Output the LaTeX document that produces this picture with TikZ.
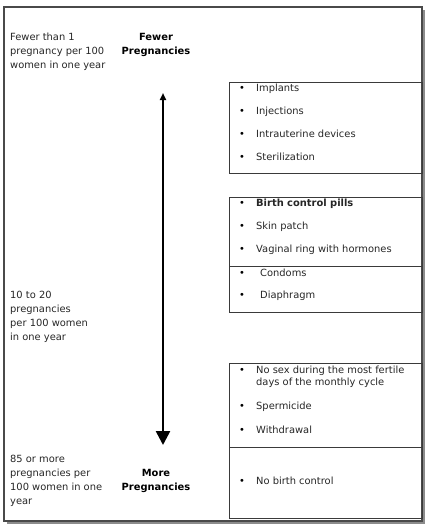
\documentclass[tikz,border=0pt]{standalone}
\usepackage{fontspec}
\setmainfont{DejaVu Sans}
\usepackage{xcolor}
\usepackage{tikz}
\usetikzlibrary{
  arrows.meta,
  positioning,
}
\definecolor{framegray}{HTML}{4A4A4A}
\definecolor{shadowgray}{HTML}{8C8C8C}
\definecolor{boxline}{HTML}{3A3A3A}
\definecolor{textgray}{HTML}{262626}

\begin{document}
\begin{tikzpicture}[
    x=1pt, y=-1pt,
    rate/.style={align=left, anchor=west, inner sep=0pt, text=textgray,
                 font=\fontsize{9.9}{14}\selectfont},
    heading/.style={align=center, inner sep=0pt, text=black,
                    font=\fontsize{9.9}{14}\selectfont\bfseries},
    method/.style={anchor=west, inner sep=0pt, text=textgray,
                   font=\fontsize{9.9}{12.5}\selectfont},
    group/.style={draw=boxline, line width=0.8pt},
  ]
  \useasboundingbox (0,0) rectangle (433,530);

  % outer frame with its shadow
  \draw[shadowgray, line width=2pt] (424,10) -- (424,523) -- (7,523);
  \draw[framegray, line width=1.4pt] (4,7) rectangle (422,521);

  % left column
  \node[rate] (low)  at (10,52)  {Fewer than 1\\pregnancy per 100\\women in one year};
  \node[rate] (mid)  at (10,317) {10 to 20\\pregnancies\\per 100 women\\in one year};
  \node[rate] (high) at (10,481) {85 or more\\pregnancies per\\100 women in one\\year};

  \node[heading] (fewer) at (156,45)  {Fewer\\Pregnancies};
  \node[heading] (more)  at (156,481) {More\\Pregnancies};

  \coordinate (top)    at (163,93);
  \coordinate (bottom) at (163,445);
  \draw[line width=2.6pt, {Triangle[length=7pt,width=6pt]}-{Triangle[length=14pt,width=14pt]}]
    (top) -- (bottom);

  % groups of methods
  \draw[group] (229,82)  rectangle (422,173);
  \draw[group] (229,197) rectangle (422,266);
  \draw[group] (229,266) rectangle (422,312);
  \draw[group] (229,363) rectangle (422,447);
  \draw[group] (229,447) rectangle (422,518);

  \node[method] (implant)   at (239,89)  {\makebox[17pt][l]{\textcolor{black}{•}}Implants};
  \node[method] (inject)    at (239,112) {\makebox[17pt][l]{\textcolor{black}{•}}Injections};
  \node[method] (iud)       at (239,134) {\makebox[17pt][l]{\textcolor{black}{•}}Intrauterine devices};
  \node[method] (steril)    at (239,157) {\makebox[17pt][l]{\textcolor{black}{•}}Sterilization};

  \node[method] (pills)     at (239,204) {\makebox[17pt][l]{\textcolor{black}{•}}\textbf{Birth control pills}};
  \node[method] (patch)     at (239,227) {\makebox[17pt][l]{\textcolor{black}{•}}Skin patch};
  \node[method] (ring)      at (239,250) {\makebox[17pt][l]{\textcolor{black}{•}}Vaginal ring with hormones};

  \node[method] (condom)    at (239,273) {\makebox[21pt][l]{\textcolor{black}{•}}Condoms};
  \node[method] (diaphragm) at (239,296) {\makebox[21pt][l]{\textcolor{black}{•}}Diaphragm};

  \node[method] (nosex)     at (239,377) {\makebox[17pt][l]{\textcolor{black}{•}}\begin{tabular}[t]{@{}l@{}}No sex during the most fertile\\days of the monthly cycle\end{tabular}};
  \node[method] (sperm)     at (239,407) {\makebox[17pt][l]{\textcolor{black}{•}}Spermicide};
  \node[method] (withdraw)  at (239,430) {\makebox[17pt][l]{\textcolor{black}{•}}Withdrawal};

  \node[method] (none)      at (239,481) {\makebox[17pt][l]{\textcolor{black}{•}}No birth control};
\end{tikzpicture}
\end{document}
